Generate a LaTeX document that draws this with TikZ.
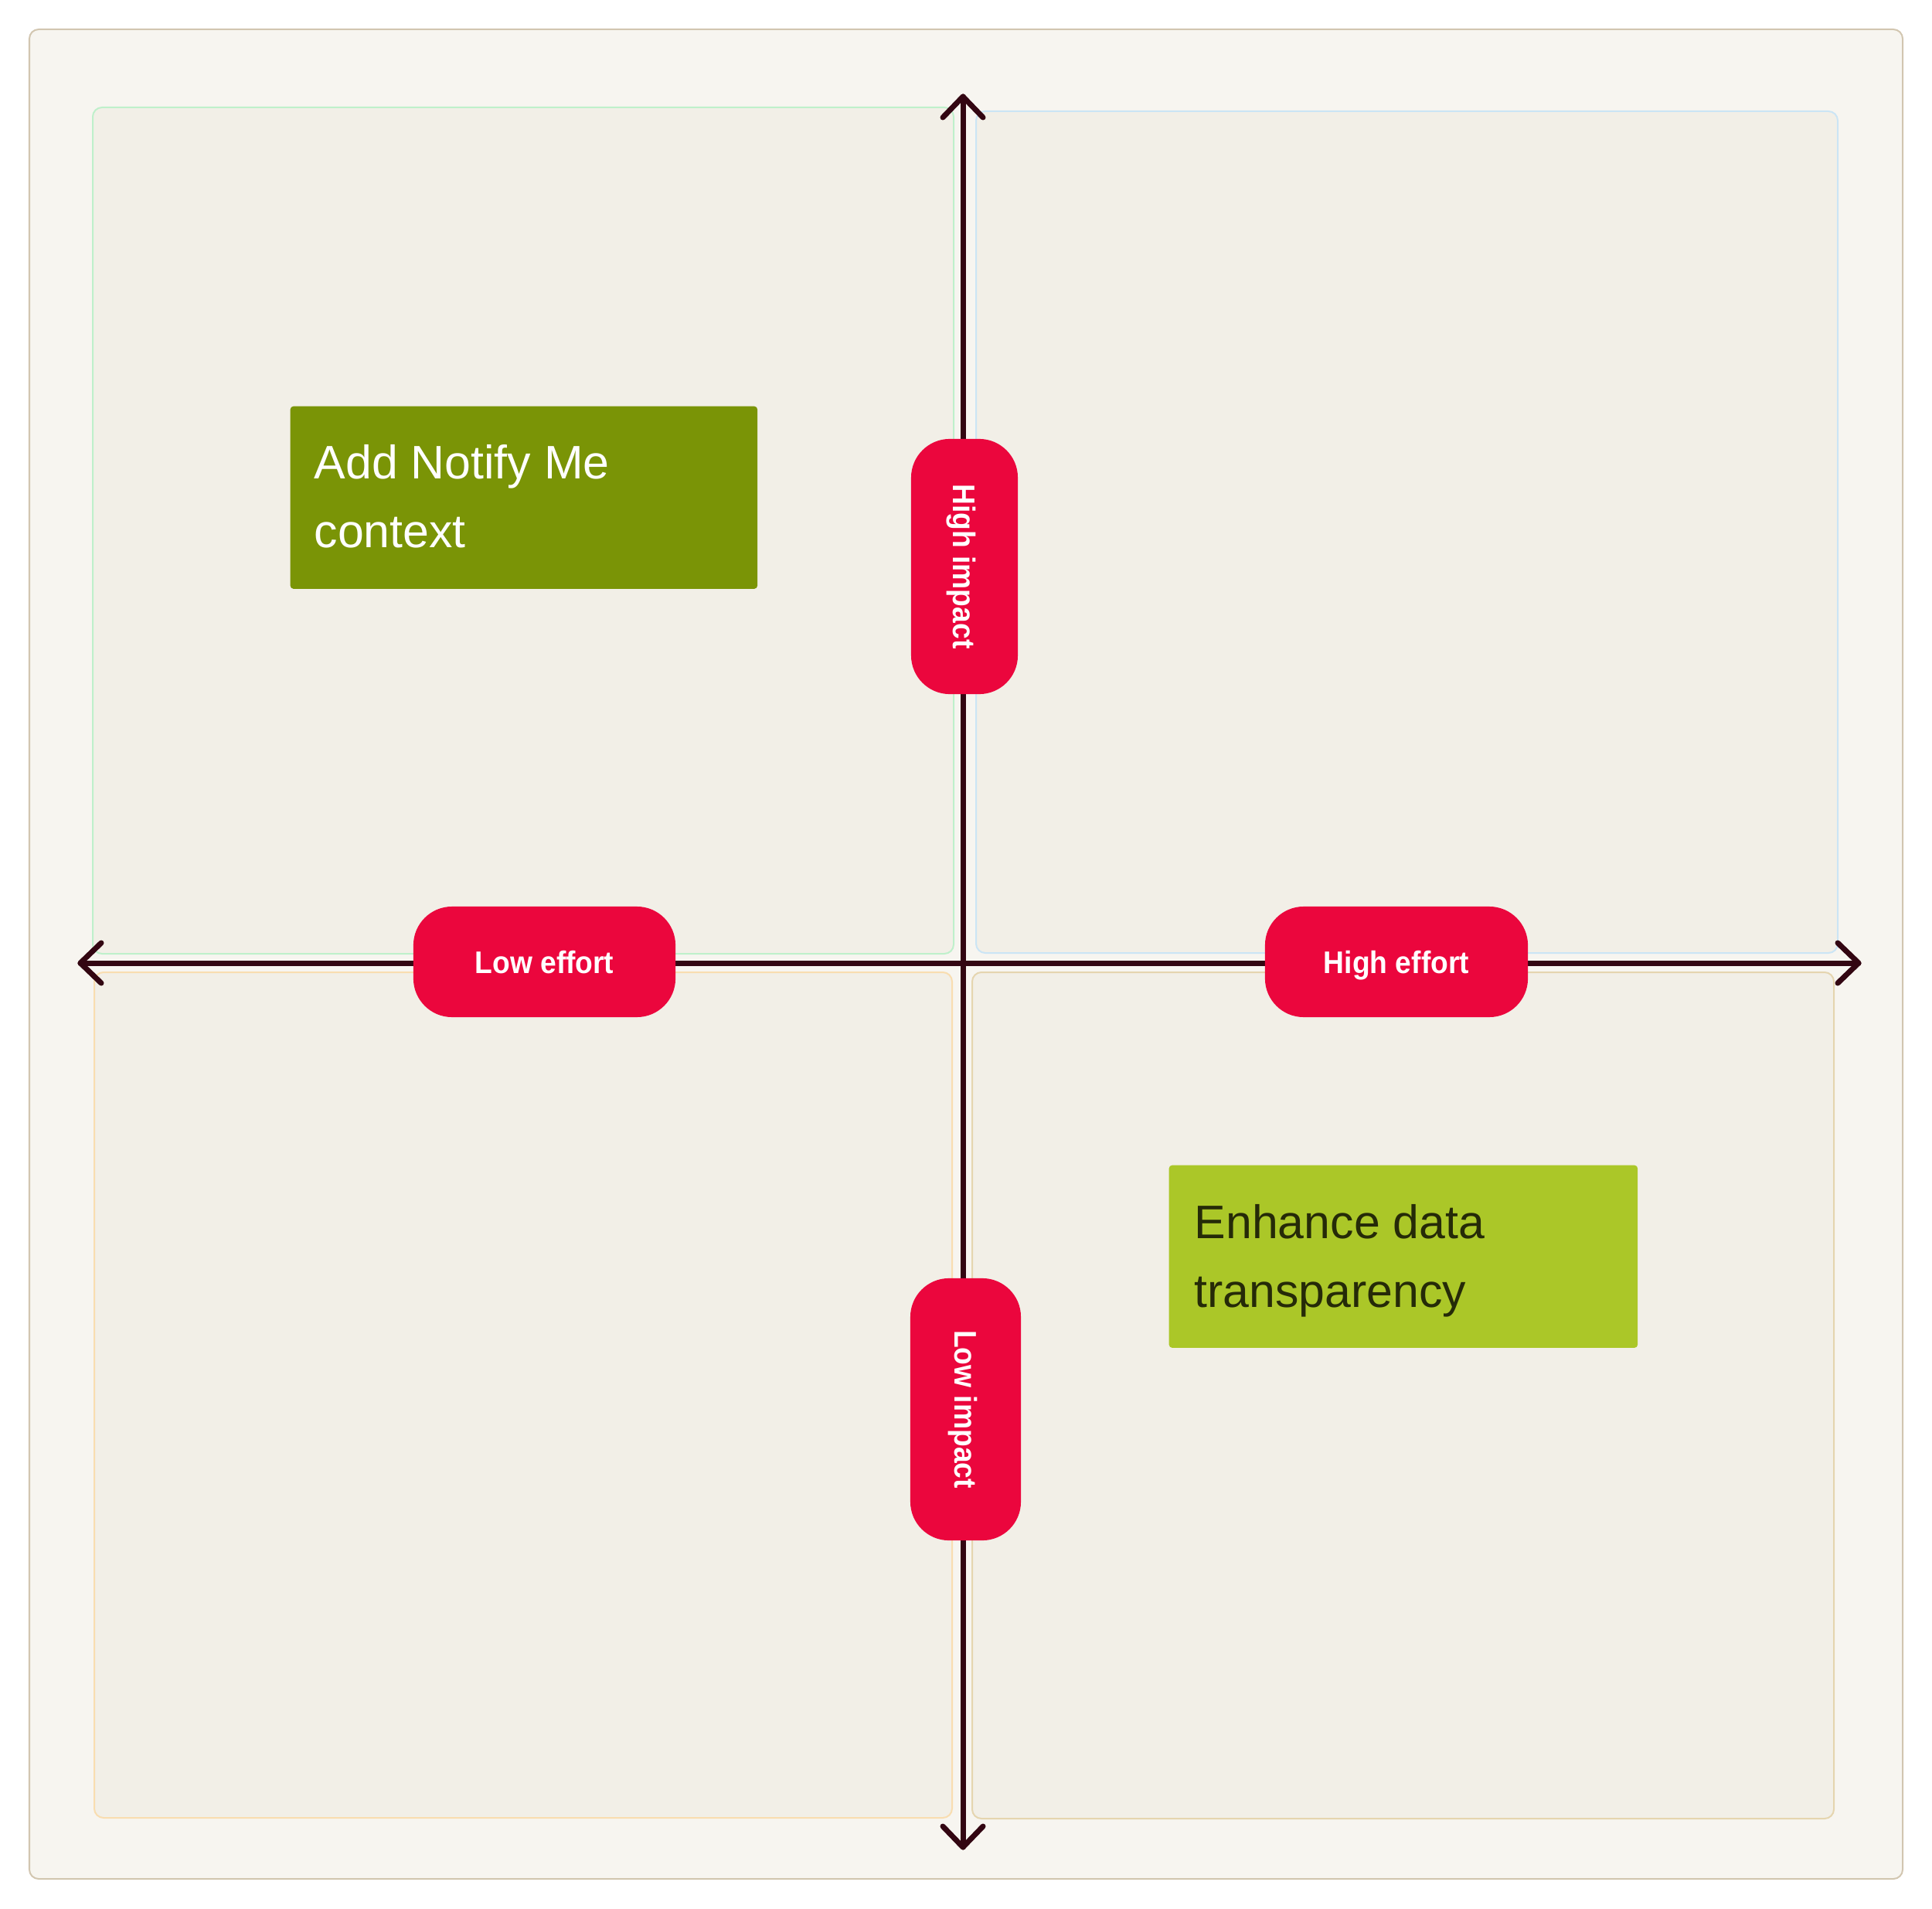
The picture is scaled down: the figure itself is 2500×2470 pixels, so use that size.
\documentclass[tikz,border=0pt]{standalone}
\usepackage{fontspec}
\setmainfont{Liberation Sans}
\newfontfamily\lblfont{Liberation Sans}
\newfontfamily\pillfont[FakeStretch=0.92]{Liberation Sans}
\definecolor{framebg}{HTML}{F7F5F0}
\definecolor{framedraw}{HTML}{D2C6B0}
\definecolor{quadbg}{HTML}{F2EFE7}
\definecolor{qtl}{HTML}{BFF0CB}
\definecolor{qtr}{HTML}{CBE5F5}
\definecolor{qbl}{HTML}{F9DDB0}
\definecolor{qbr}{HTML}{E5D5AF}
\definecolor{axiscol}{HTML}{330612}
\definecolor{pillred}{HTML}{EB063D}
\definecolor{greenA}{HTML}{7A9406}
\definecolor{greenB}{HTML}{ABC728}
\definecolor{darktext}{HTML}{252A08}
\tikzset{
  framebox/.style={fill=framebg, draw=framedraw, line width=0.02cm, rounded corners=0.12cm},
  quad/.style={fill=quadbg, line width=0.02cm, rounded corners=0.12cm},
  axis/.style={draw=axiscol, line width=0.07cm, line cap=round, line join=round},
  pill/.style={fill=pillred, text=white, rounded corners=0.5cm, inner sep=0pt,
    text height=8.25pt, text depth=0pt,
    font=\pillfont\bfseries\fontsize{11.5}{13}\selectfont},
  ideabox/.style={rounded corners=0.04cm, inner sep=0pt, anchor=north west},
  ideatext/.style={anchor=base west, align=left, inner sep=0pt,
    font=\lblfont\fontsize{17.3}{25.04}\selectfont}
}
\begin{document}
\begin{tikzpicture}[x=0.01cm,y=-0.01cm]
\useasboundingbox[fill=white] (0,0) rectangle (2500,2470);
% outer frame
\draw[framebox] (38,38) rectangle (2462,2431);
% quadrants
\draw[quad, draw=qtl] (120,139) rectangle (1234,1234);
\draw[quad, draw=qtr] (1263,144) rectangle (2378,1233);
\draw[quad, draw=qbl] (122,1258) rectangle (1232,2352);
\draw[quad, draw=qbr] (1258,1258) rectangle (2373,2353);
% axes
\coordinate (top) at (1246,125);
\coordinate (bottom) at (1246,2390);
\coordinate (left) at (104,1246);
\coordinate (right) at (2405,1246);
\draw[axis] (top) -- (bottom);
\draw[axis] (left) -- (right);
\draw[axis] (top) ++(-26,27) -- (top) -- ++(26,27);
\draw[axis] (bottom) ++(-26,-27) -- (bottom) -- ++(26,-27);
\draw[axis] (left) ++(27,-26) -- (left) -- ++(27,26);
\draw[axis] (right) ++(-27,-26) -- (right) -- ++(-27,26);
% pills
\node[pill, rotate=-90, minimum width=3.30cm, minimum height=1.38cm] (hi) at (1248,733) {High impact};
\node[pill, rotate=-90, minimum width=3.39cm, minimum height=1.43cm] (li) at (1249.5,1823.5) {Low impact};
\node[pill, minimum width=3.39cm, minimum height=1.43cm] (le) at (704.5,1244.5) {Low effort};
\node[pill, minimum width=3.40cm, minimum height=1.43cm] (he) at (1807,1244.5) {High effort};
% ideas
\node[ideabox, fill=greenA, minimum width=6.04cm, minimum height=2.36cm] (notify) at (375,525) {};
\node[ideatext, text=white] (notifytxt) at (406,708) {Add Notify Me\\context};
\node[ideabox, fill=greenB, minimum width=6.06cm, minimum height=2.36cm] (enh) at (1512,1507) {};
\node[ideatext, text=darktext] (enhtxt) at (1545,1691) {Enhance data\\transparency};
\end{tikzpicture}
\end{document}
